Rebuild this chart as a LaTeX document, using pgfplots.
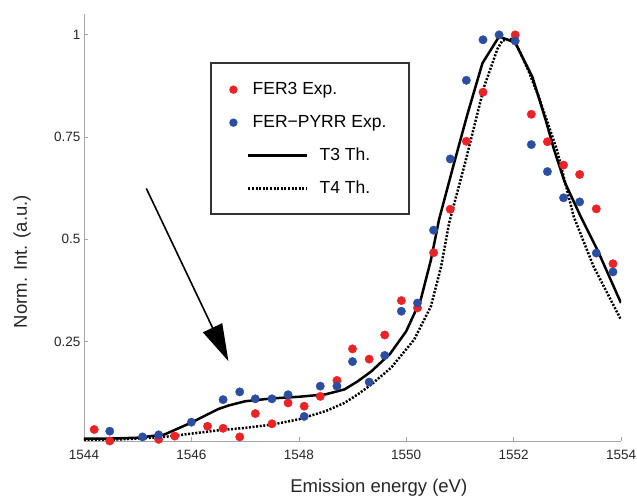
\documentclass[border=0pt]{standalone}
\usepackage{fontspec}
\setmainfont{Liberation Sans}
\usepackage{pgfplots}
\pgfplotsset{compat=1.18}
\usetikzlibrary{arrows.meta}
\definecolor{ferred}{RGB}{236,34,39}
\definecolor{ferblue}{RGB}{44,78,160}

\pgfplotsset{
  lineleg/.style={legend image code/.code={\draw[##1] (0pt,0pt) -- (59pt,0pt);}},
  dotleg/.style={legend image code/.code={%
      \path[draw=none,fill=none] (0pt,0pt) -- (59pt,0pt);
      \fill[overlay,draw=none,#1] (-15pt,0pt) circle (4.2pt);}},
}

\begin{document}
\begin{tikzpicture}
\begin{axis}[
  name=ax,
  scale only axis, width=537pt, height=427pt,
  xmin=1544, xmax=1554, ymin=0.007, ymax=1.05,
  axis lines=left,
  axis line style={-, draw=gray!70, line width=0.8pt},
  xtick={1544,1546,...,1554},
  ytick={0.25,0.5,0.75,1},
  yticklabels={0.25,0.5,0.75,1},
  tick align=inside, major tick length=4pt,
  tick style={gray!70, line width=0.6pt},
  /pgf/number format/assume math mode=true,
  /pgf/number format/1000 sep={},
  ticklabel style={font=\fontsize{13.5}{16}\selectfont, text=black!85},
  xticklabel style={yshift=-6pt},
  xlabel={Emission energy (eV)},
  ylabel={Norm. Int. (a.u.)},
  label style={font=\fontsize{18.5}{22}\selectfont, text=black!85},
  xlabel style={at={(axis description cs:0.549,-0.11)}, anchor=center},
  ylabel style={at={(axis description cs:-0.1155,0.42)}, anchor=center},
  legend cell align=left,
  legend style={draw=none, fill=none, inner sep=0pt,
    at={(axis description cs:0.3035,0.842)}, anchor=north west,
    row sep=17pt, column sep=11pt,
    font=\fontsize{17.5}{21}\selectfont,
    nodes={inner sep=0pt, text height=12.5pt, text depth=3.5pt}},
]

% measured spectra
\addplot[only marks, mark=*, mark size=4.2pt, color=ferred, dotleg=ferred]
  coordinates {
  (1544.19,0.035) (1544.48,0.007) (1545.09,0.000) (1545.39,0.011)
  (1545.69,0.019) (1546.30,0.043) (1546.59,0.038) (1546.90,0.017)
  (1547.19,0.074) (1547.50,0.049) (1547.80,0.100) (1548.10,0.092)
  (1548.40,0.116) (1548.71,0.155) (1549.00,0.232) (1549.31,0.207)
  (1549.60,0.266) (1549.91,0.350) (1550.21,0.332) (1550.51,0.467)
  (1550.82,0.573) (1551.12,0.739) (1551.43,0.859) (1552.03,0.999)
  (1552.33,0.805) (1552.63,0.738) (1552.93,0.681) (1553.23,0.658)
  (1553.54,0.574) (1553.85,0.440)};
\addlegendentry{\hspace*{-67pt}FER3 Exp.}

\addplot[only marks, mark=*, mark size=4.2pt, color=ferblue, dotleg=ferblue]
  coordinates {
  (1544.19,-0.002) (1544.48,0.031) (1545.09,0.017) (1545.39,0.022)
  (1545.69,0.000) (1546.00,0.053) (1546.30,0.004) (1546.59,0.108)
  (1546.90,0.127) (1547.19,0.110) (1547.50,0.110) (1547.80,0.120)
  (1548.10,0.067) (1548.40,0.141) (1548.71,0.141) (1549.00,0.201)
  (1549.31,0.151) (1549.60,0.216) (1549.91,0.324) (1550.21,0.344)
  (1550.51,0.522) (1550.82,0.696) (1551.12,0.888) (1551.43,0.987)
  (1551.73,0.999) (1552.03,0.984) (1552.33,0.731) (1552.63,0.665)
  (1552.93,0.601) (1553.23,0.591) (1553.54,0.466) (1553.85,0.420)};
\addlegendentry{\hspace*{-67pt}FER{\char"2212}PYRR Exp.}

% calculated spectra
\addplot[black, line width=2.5pt, line join=round, lineleg]
  coordinates {
  (1544.0,0.013) (1544.5,0.013) (1545.0,0.015) (1545.5,0.023)
  (1546.0,0.052) (1546.3,0.072) (1546.5,0.085) (1546.7,0.094)
  (1547.0,0.104) (1547.5,0.111) (1548.0,0.115) (1548.5,0.121)
  (1548.85,0.133) (1549.1,0.153) (1549.35,0.177) (1549.7,0.220)
  (1550.0,0.275) (1550.27,0.352) (1550.46,0.449) (1550.61,0.547)
  (1550.89,0.685) (1551.14,0.805) (1551.42,0.930) (1551.73,0.995)
  (1552.03,0.980) (1552.35,0.896) (1552.6,0.790) (1552.75,0.720)
  (1552.95,0.640) (1553.25,0.555) (1553.56,0.474) (1554.0,0.344)};
\addlegendentry{T3 Th.}

\addplot[black, line width=2.5pt, dash pattern=on 2pt off 1.6pt, lineleg]
  coordinates {
  (1544.0,0.0085) (1544.5,0.010) (1545.0,0.013) (1545.5,0.017)
  (1546.0,0.025) (1546.5,0.033) (1547.0,0.039) (1547.5,0.047)
  (1548.0,0.060) (1548.5,0.080) (1548.85,0.100) (1549.1,0.121)
  (1549.35,0.145) (1549.72,0.186) (1550.15,0.255) (1550.46,0.336)
  (1550.65,0.433) (1550.80,0.540) (1551.11,0.693) (1551.45,0.872)
  (1551.70,0.965) (1551.79,0.985) (1552.0,0.990) (1552.25,0.920)
  (1552.47,0.847) (1552.81,0.717) (1553.12,0.555) (1553.49,0.433)
  (1554.0,0.303)};
\addlegendentry{T4 Th.}

% legend frame and pointer to the low-energy shoulder
\draw[line width=1.6pt, black!80]
  (axis description cs:0.2365,0.5316) rectangle (axis description cs:0.6052,0.8852);
\draw[line width=1.6pt, -{Triangle[length=37pt,width=21pt]}]
  (axis cs:1545.16,0.624) -- (axis cs:1546.69,0.202);
\end{axis}
\pgfresetboundingbox
\path[use as bounding box] ([shift={(-84pt,-56pt)}]ax.south west)
  rectangle ([shift={(553pt,441pt)}]ax.south west);
\end{tikzpicture}
\end{document}
